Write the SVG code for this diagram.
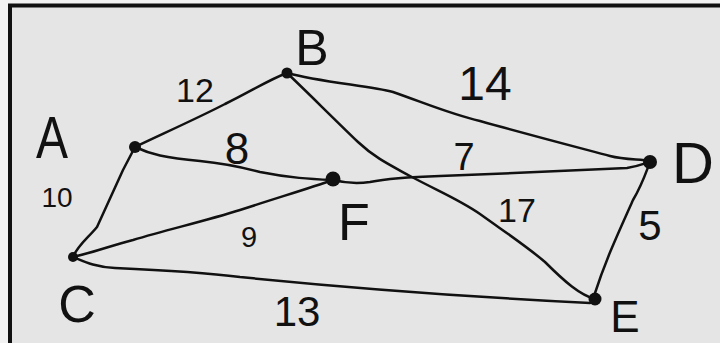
<svg xmlns="http://www.w3.org/2000/svg" width="720" height="343" viewBox="0 0 720 343">
<style>
.edge{fill:none;stroke:#111;stroke-width:2.5;stroke-linecap:round;stroke-linejoin:round}
.dot{fill:#111}
.lbl{font-family:"Liberation Sans",Arial,sans-serif;fill:#111;text-anchor:middle}
</style>
<rect x="0" y="0" width="720" height="343" fill="#f2f2f2"/>
<rect x="10" y="5.5" width="730" height="360" fill="#e5e5e5" stroke="#111" stroke-width="4"/>
<g id="connectors">
<path id="A-B" class="edge" d="M135,147 C160,135 200,117 225,104 C250,92 268,80 287,73"/>
<path id="A-F" class="edge" d="M135,147 C150,154 165,158 200,161 C230,164 245,168 260,172 C290,178 310,179 333,180"/>
<path id="A-C" class="edge" d="M135,147 L123,170 L97,227 C88,238 78,245 73,257"/>
<path id="B-D" class="edge" d="M287,73 C320,82 370,86 393,92 C430,105 450,114 480,121 C530,135 580,148 610,156 C625,160 640,159 650,161"/>
<path id="B-E" class="edge" d="M287,73 C300,85 330,115 358,142 C375,158 390,165 410,176 C440,192 460,200 480,214 C505,232 525,245 545,262 C565,282 580,295 595,299"/>
<path id="F-D" class="edge" d="M333,180 C345,183 355,184 370,182 C390,178 410,177 440,176 C500,174 580,170 627,168 C640,166 645,163 650,162"/>
<path id="C-F" class="edge" d="M73,257 C95,252 110,246 133,240 C170,229 205,221 240,210 C280,197 310,188 333,180"/>
<path id="C-E" class="edge" d="M73,257 C85,262 95,267 115,268 C160,270 200,272 240,277 C330,286 450,296 590,303"/>
<path id="D-E" class="edge" d="M650,162 C645,175 642,185 633,200 C615,240 605,262 594,296"/>
</g>
<g id="node-A"><circle class="dot" cx="135" cy="147" r="6"/><text class="lbl" x="52" y="158" font-size="60" transform="translate(52 0) scale(0.8 1) translate(-52 0)">A</text></g>
<g id="node-B"><circle class="dot" cx="287" cy="73" r="5.5"/><text class="lbl" x="312" y="65" font-size="50">B</text></g>
<g id="node-C"><circle class="dot" cx="73" cy="257" r="5"/><text class="lbl" x="77" y="322" font-size="52">C</text></g>
<g id="node-D"><circle class="dot" cx="650" cy="162" r="7"/><text class="lbl" x="693" y="183" font-size="58">D</text></g>
<g id="node-E"><circle class="dot" cx="595" cy="299" r="6.5"/><text class="lbl" x="625" y="332" font-size="44">E</text></g>
<g id="node-F"><circle class="dot" cx="333" cy="179" r="7.5"/><text class="lbl" x="354" y="240" font-size="52">F</text></g>
<g id="edge-labels">
<text class="lbl" x="195" y="102" font-size="34">12</text>
<text class="lbl" x="237" y="164" font-size="44">8</text>
<text class="lbl" x="57" y="207" font-size="28">10</text>
<text class="lbl" x="249" y="247" font-size="29">9</text>
<text class="lbl" x="485" y="100" font-size="48">14</text>
<text class="lbl" x="464" y="170" font-size="38">7</text>
<text class="lbl" x="517" y="222" font-size="34">17</text>
<text class="lbl" x="650" y="240" font-size="42">5</text>
<text class="lbl" x="297" y="326" font-size="42">13</text>
</g>
</svg>
